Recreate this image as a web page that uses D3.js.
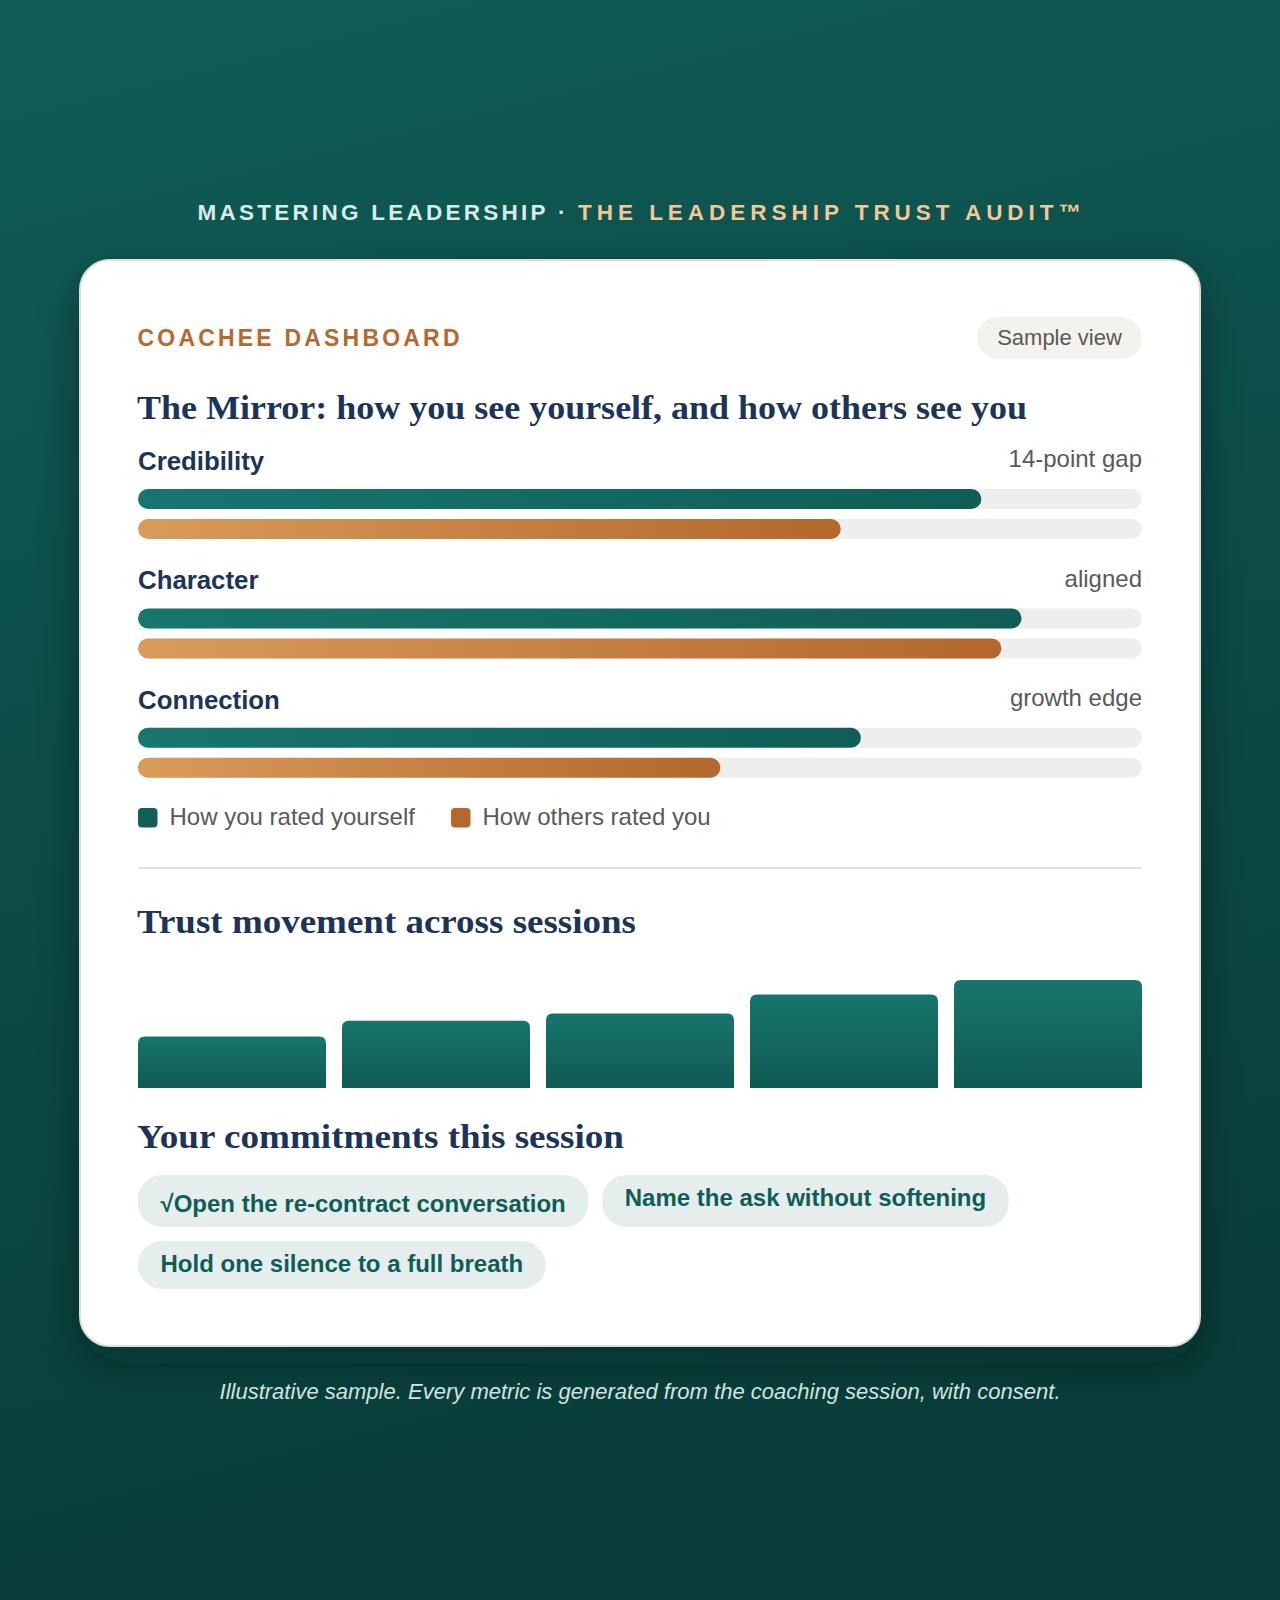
<!DOCTYPE html>
<html>
<head>
<meta charset="utf-8">
<script src="https://cdn.jsdelivr.net/npm/d3@7"></script>
<style>
  html, body { margin: 0; padding: 0; background: #0d4d48; }
  svg { display: block; }
  .sans { font-family: "Liberation Sans", Arial, sans-serif; }
  .serif { font-family: "Liberation Serif", "Times New Roman", serif; font-weight: 700; }
</style>
</head>
<body>
<script>
// mirror data
const dimensions = ["Credibility", "Character", "Connection"];
const selfScores = [84, 88, 72];
const othersScores = [70, 86, 58];
const gapNotes = ["14-point gap", "aligned", "growth edge"];
const legendLabels = ["How you rated yourself", "How others rated you"];

// trust movement
const sessions = ["Session 1", "Session 2", "Session 3", "Session 4", "Session 5"];
const trustScores = [43, 56, 62, 78, 90];

const commitments = ["√Open the re-contract conversation", "Name the ask without softening", "Hold one silence to a full breath"];

const W = 1280, H = 1600;
const left = 138, right = 1142;

const svg = d3.select('body').append('svg')
  .attr('width', W)
  .attr('height', H);

const defs = svg.append('defs');

function linGrad(id, stops, x2, y2) {
  const g = defs.append('linearGradient').attr('id', id)
    .attr('x1', 0).attr('y1', 0).attr('x2', x2).attr('y2', y2);
  stops.forEach((c, i) => g.append('stop').attr('offset', i / (stops.length - 1)).attr('stop-color', c));
}
linGrad('bg', ['#105d57', '#0c4c47', '#093d39'], 0.2, 1);
linGrad('selfGrad', ['#17766e', '#0f5d56'], 1, 0);
linGrad('othersGrad', ['#d99b5c', '#b3672d'], 1, 0);
linGrad('sessGrad', ['#17756d', '#0f5a53'], 0, 1);

const shadow = defs.append('filter').attr('id', 'shadow')
  .attr('filterUnits', 'userSpaceOnUse')
  .attr('x', -100).attr('y', 100).attr('width', 1480).attr('height', 1450);
shadow.append('feDropShadow').attr('dx', 0).attr('dy', 16).attr('stdDeviation', 22)
  .attr('flood-color', '#021c1a').attr('flood-opacity', 0.38);

svg.append('rect').attr('width', W).attr('height', H).attr('fill', 'url(#bg)');

// header line
svg.append('text').attr('class', 'sans')
  .attr('x', 197.5).attr('y', 220)
  .attr('font-size', 22.5).attr('font-weight', 700)
  .attr('fill', '#d7ece7')
  .attr('textLength', 348).attr('lengthAdjust', 'spacing')
  .text('MASTERING LEADERSHIP');
svg.append('text').attr('class', 'sans')
  .attr('x', 561.7).attr('y', 220).attr('text-anchor', 'middle')
  .attr('font-size', 22.5).attr('font-weight', 700)
  .attr('fill', '#d7ece7')
  .text('·');
svg.append('text').attr('class', 'sans')
  .attr('x', 578).attr('y', 220)
  .attr('font-size', 22.5).attr('font-weight', 700)
  .attr('fill', '#f3c797')
  .attr('textLength', 503).attr('lengthAdjust', 'spacing')
  .text('THE LEADERSHIP TRUST AUDIT™');

// card
svg.append('rect')
  .attr('x', 80).attr('y', 260).attr('width', 1120).attr('height', 1086)
  .attr('rx', 30)
  .attr('fill', '#ffffff')
  .attr('stroke', '#e3ded5').attr('stroke-width', 2)
  .attr('filter', 'url(#shadow)');

svg.append('text').attr('class', 'sans')
  .attr('x', 137.5).attr('y', 345.7)
  .attr('font-size', 23).attr('font-weight', 700)
  .attr('fill', '#b5692e')
  .attr('textLength', 322).attr('lengthAdjust', 'spacing')
  .text('COACHEE DASHBOARD');

svg.append('rect')
  .attr('x', 977).attr('y', 317).attr('width', 165).attr('height', 42).attr('rx', 21)
  .attr('fill', '#f4f2ed');
svg.append('text').attr('class', 'sans')
  .attr('x', 1059.5).attr('y', 345.3).attr('text-anchor', 'middle')
  .attr('font-size', 22).attr('fill', '#595959')
  .text('Sample view');

svg.append('text').attr('class', 'serif')
  .attr('x', 137).attr('y', 419.3)
  .attr('font-size', 34).attr('fill', '#1c3458')
  .attr('textLength', 890).attr('lengthAdjust', 'spacingAndGlyphs')
  .text('The Mirror: how you see yourself, and how others see you');

// mirror bars
const x = d3.scaleLinear().domain([0, 100]).range([left, right]);
const rowY = d3.scalePoint().domain(dimensions).range([470, 708.8]);
const barH = 20;

const rows = svg.selectAll('g.row')
  .data(dimensions.map((d, i) => ({ name: d, self: selfScores[i], others: othersScores[i], note: gapNotes[i] })))
  .join('g')
  .attr('class', 'row')
  .attr('transform', d => `translate(0,${rowY(d.name)})`);

rows.append('text').attr('class', 'sans')
  .attr('x', left).attr('y', 0)
  .attr('font-size', 25.8).attr('font-weight', 700)
  .attr('fill', '#1c3458')
  .text(d => d.name);

rows.append('text').attr('class', 'sans')
  .attr('x', right).attr('y', -2.7).attr('text-anchor', 'end')
  .attr('font-size', 24).attr('fill', '#595959')
  .text(d => d.note);

[['self', 19, 'url(#selfGrad)'], ['others', 49, 'url(#othersGrad)']].forEach(([key, off, fill]) => {
  rows.append('rect')
    .attr('x', x(0)).attr('y', off)
    .attr('width', x(100) - x(0)).attr('height', barH).attr('rx', barH / 2)
    .attr('fill', '#eeefec');
  rows.append('rect')
    .attr('x', x(0)).attr('y', off)
    .attr('width', d => x(d[key]) - x(0)).attr('height', barH).attr('rx', barH / 2)
    .attr('fill', fill);
});

// legend
const legendX = [138, 451];
const legendColors = ['#115f57', '#b3692e'];
const legend = svg.selectAll('g.legend')
  .data(legendLabels)
  .join('g')
  .attr('class', 'legend')
  .attr('transform', (d, i) => `translate(${legendX[i]},808)`);
legend.append('rect')
  .attr('width', 19.5).attr('height', 19.5).attr('rx', 4)
  .attr('fill', (d, i) => legendColors[i]);
legend.append('text').attr('class', 'sans')
  .attr('x', 31.5).attr('y', 17)
  .attr('font-size', 24).attr('fill', '#595959')
  .text(d => d);

svg.append('rect')
  .attr('x', left).attr('y', 867).attr('width', right - left).attr('height', 2)
  .attr('fill', '#e4e1d7');

svg.append('text').attr('class', 'serif')
  .attr('x', 137).attr('y', 933)
  .attr('font-size', 34).attr('fill', '#1c3458')
  .attr('textLength', 499).attr('lengthAdjust', 'spacingAndGlyphs')
  .text('Trust movement across sessions');

// trust movement bars
const xb = d3.scaleBand().domain(sessions).range([left, right]).paddingInner(16 / 204).paddingOuter(0);
const yb = d3.scaleLinear().domain([0, 100]).range([1088, 968]);
const r = 7;
svg.selectAll('path.sess')
  .data(sessions.map((s, i) => ({ s, v: trustScores[i] })))
  .join('path')
  .attr('class', 'sess')
  .attr('fill', 'url(#sessGrad)')
  .attr('d', d => {
    const x0 = xb(d.s), x1 = x0 + xb.bandwidth(), y0 = yb(d.v), y1 = yb(0);
    return `M${x0},${y1}V${y0 + r}Q${x0},${y0} ${x0 + r},${y0}H${x1 - r}Q${x1},${y0} ${x1},${y0 + r}V${y1}Z`;
  });

svg.append('text').attr('class', 'serif')
  .attr('x', 137).attr('y', 1147.5)
  .attr('font-size', 34).attr('fill', '#1c3458')
  .attr('textLength', 487).attr('lengthAdjust', 'spacingAndGlyphs')
  .text('Your commitments this session');

// commitment chips
const chipPad = 22.5, chipGap = 14;
let cx = left, cy = 1175, rowItems = [];
const chipRows = [];
commitments.forEach(c => {
  const g = svg.append('g').attr('class', 'chip');
  const t = g.append('text').attr('class', 'sans')
    .attr('font-size', 24).attr('font-weight', 700)
    .attr('fill', '#0f5d56')
    .text(c);
  const w = t.node().getComputedTextLength() + chipPad * 2;
  if (cx + w > right && rowItems.length) {
    chipRows.push(rowItems);
    rowItems = [];
    cx = left;
  }
  rowItems.push({ g, t, w, x: cx, check: c.startsWith('√') });
  cx += w + chipGap;
});
chipRows.push(rowItems);
chipRows.forEach(items => {
  const hasCheck = items.some(d => d.check);
  const h = hasCheck ? 52 : 48;
  items.forEach(d => {
    d.g.insert('rect', 'text')
      .attr('x', d.x).attr('y', cy).attr('width', d.w).attr('height', h).attr('rx', 24)
      .attr('fill', '#e5eeec');
    d.t.attr('x', d.x + chipPad).attr('y', cy + (d.check ? 36.7 : 31.3));
  });
  cy += h + 14;
});

svg.append('text').attr('class', 'sans')
  .attr('x', 640).attr('y', 1399).attr('text-anchor', 'middle')
  .attr('font-size', 22).attr('font-style', 'italic')
  .attr('fill', '#cfe4df')
  .attr('textLength', 841).attr('lengthAdjust', 'spacing')
  .text('Illustrative sample. Every metric is generated from the coaching session, with consent.');
</script>
</body>
</html>
